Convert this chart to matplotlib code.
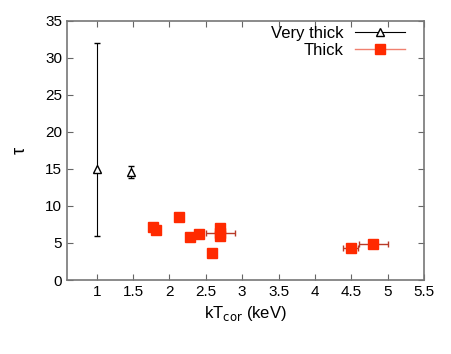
import matplotlib

matplotlib.use("Agg")
import matplotlib.pyplot as plt
from matplotlib.lines import Line2D

plt.rcParams["font.family"] = ["Liberation Sans", "DejaVu Sans"]

# Very thick sources
vt_kt = [1.0, 1.47]
vt_tau = [15.0, 14.6]
vt_tau_lo = [9.0, 0.8]
vt_tau_hi = [17.0, 0.8]

# Thick sources
t_kt = [1.77, 1.82, 2.13, 2.28, 2.40, 2.58, 2.70, 2.70, 2.69, 4.49, 4.80]
t_kt_err = [0.02, 0.02, 0.02, 0.02, 0.03, 0.02, 0.20, 0.02, 0.02, 0.10, 0.20]
t_tau = [7.1, 6.7, 8.5, 5.8, 6.2, 3.7, 6.3, 7.0, 5.9, 4.3, 4.85]
t_tau_err = [0.4, 0.3, 0.4, 0.4, 0.4, 0.4, 0.4, 0.4, 0.3, 0.4, 0.4]

xticks = [1, 1.5, 2, 2.5, 3, 3.5, 4, 4.5, 5, 5.5]
yticks = [0, 5, 10, 15, 20, 25, 30, 35]

fig = plt.figure(figsize=(4.52, 3.54), dpi=100)
ax = fig.add_axes([0.148, 0.209, 0.79, 0.732])

ax.errorbar(t_kt, t_tau, xerr=t_kt_err, yerr=t_tau_err, fmt="s", ms=7,
            color="#ff2a00", mec="#ff2a00", ecolor="#b83a28", elinewidth=1.0,
            capsize=2, zorder=3)
ax.errorbar(vt_kt, vt_tau, yerr=[vt_tau_lo, vt_tau_hi], fmt="^", ms=6,
            mfc="white", mec="black", color="black", ecolor="black",
            elinewidth=0.8, capsize=2, zorder=4)

ax.set_xlim(0.59, 5.5)
ax.set_ylim(0, 35)
ax.set_xticks(xticks)
ax.set_xticklabels([f"{v:g}" for v in xticks])
ax.set_yticks(yticks)
ax.tick_params(direction="in", top=True, right=True, labelsize=11, length=4,
               color="#666666")
for s in ax.spines.values():
    s.set_color("#777777")
    s.set_linewidth(1.2)

ax.set_xlabel("kT$_{\\rm cor}$ (keV)", fontsize=12)
ax.set_ylabel("τ", fontsize=13, labelpad=12)

# legend proxies: horizontal bar with marker, as in the original
h_vt = Line2D([], [], color="black", lw=0.8, marker="^", ms=6, mfc="white",
              mec="black")
h_t = Line2D([], [], color="#f08070", lw=1.0, marker="s", ms=7,
             mfc="#ff2a00", mec="#ff2a00")
ax.legend([h_vt, h_t], ["Very thick", "Thick"], loc="upper right",
          bbox_to_anchor=(0.955, 0.99), frameon=False, fontsize=12,
          markerfirst=False, handlelength=3.0, borderaxespad=0.0,
          borderpad=0.15, labelspacing=0.1, handletextpad=0.7)

fig.savefig("out.png", dpi=100)
